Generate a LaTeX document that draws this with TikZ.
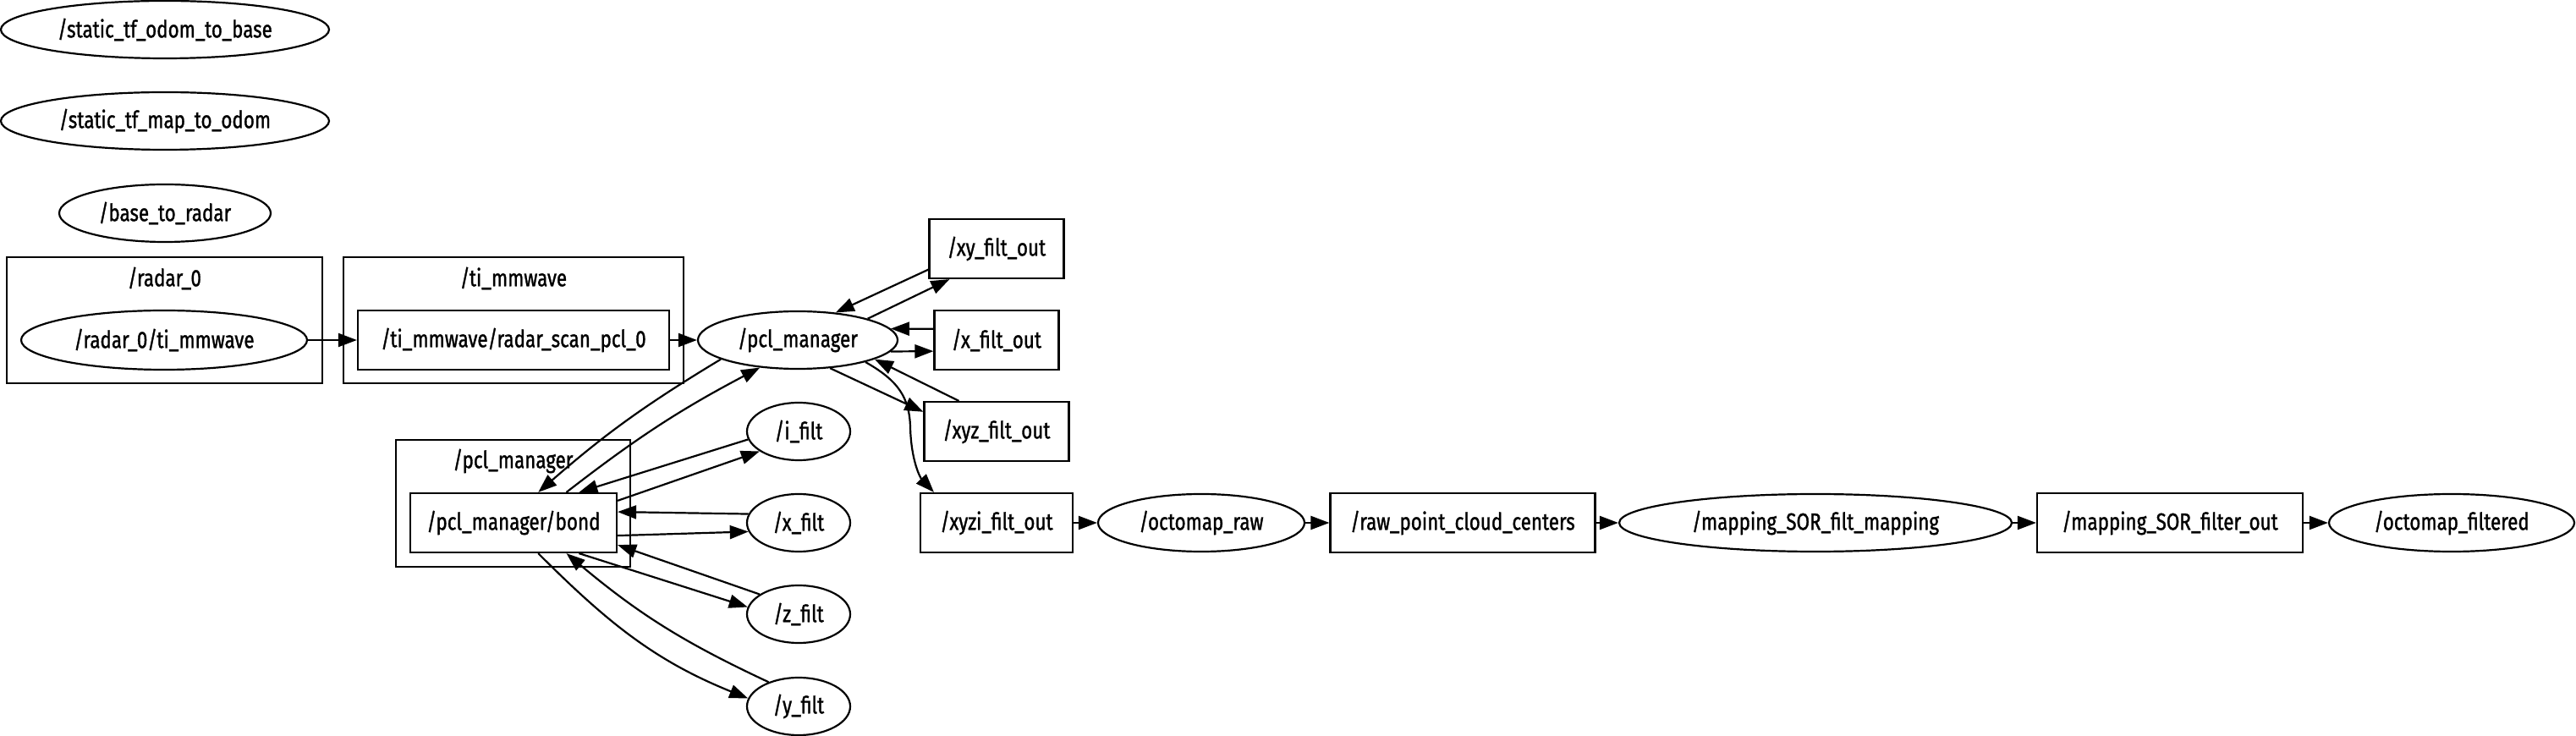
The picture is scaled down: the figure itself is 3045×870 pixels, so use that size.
\documentclass[tikz,border=0pt]{standalone}
\usepackage{fontspec}
\setmainfont{Fira Sans}[FakeStretch=0.8,FakeBold=1.2]
\usetikzlibrary{shapes.geometric,arrows.meta}

\begin{document}
\begin{tikzpicture}[x=0.5pt,y=-0.5pt,line width=1.1pt,
  every node/.style={font=\fontsize{14}{16}\selectfont,inner sep=0pt},
  rosnode/.style={draw,ellipse,minimum height=34pt},
  topic/.style={draw,rectangle,minimum height=35pt},
  grp/.style={draw,rectangle},
  flow/.style={-{Triangle[length=11pt,width=8pt]}}]
  \useasboundingbox (0,0) rectangle (3045,870);
  % groups
  \node[grp,minimum width=186.5pt,minimum height=74.5pt] (radargrp) at (194.5,378.5) {};
  \node (radarlbl) at (194.5,329) {/radar\_0};
  \node[grp,minimum width=201pt,minimum height=74.5pt] (timmgrp) at (607,378.5) {};
  \node (timmlbl) at (607,329) {/ti\_mmwave};
  \node[grp,minimum width=138.5pt,minimum height=75pt] (pclmgrp) at (606.5,595) {};
  \node (pclmlbl) at (606.5,545) {/pcl\_manager};
  % nodes
  \node[rosnode,minimum width=194pt] (sodom) at (195,35) {/static\_tf\_odom\_to\_base};
  \node[rosnode,minimum width=194pt] (smap) at (195,143) {/static\_tf\_map\_to\_odom};
  \node[rosnode,minimum width=125pt] (bradar) at (195,252) {/base\_to\_radar};
  \node[rosnode,minimum width=169pt,minimum height=35pt] (radti) at (194,402) {/radar\_0/ti\_mmwave};
  \node[topic,minimum width=184pt] (scan) at (607,402) {/ti\_mmwave/radar\_scan\_pcl\_0};
  \node[rosnode,minimum width=118pt] (pclm) at (943,402) {/pcl\_manager};
  \node[topic,minimum width=79.5pt] (xyout) at (1178,294) {/xy\_filt\_out};
  \node[topic,minimum width=73.5pt] (xout) at (1178,402) {/x\_filt\_out};
  \node[topic,minimum width=85.5pt] (xyzout) at (1178,510) {/xyz\_filt\_out};
  \node[topic,minimum width=90pt] (xyziout) at (1178,618) {/xyzi\_filt\_out};
  \node[rosnode,minimum width=122pt] (octraw) at (1420,618) {/octomap\_raw};
  \node[topic,minimum width=156.5pt] (rawpc) at (1729,618) {/raw\_point\_cloud\_centers};
  \node[rosnode,minimum width=232pt] (sorfilt) at (2146,618) {/mapping\_SOR\_filt\_mapping};
  \node[topic,minimum width=157pt] (sorout) at (2565,618) {/mapping\_SOR\_filter\_out};
  \node[rosnode,minimum width=145pt] (octfilt) at (2898,618) {/octomap\_filtered};
  \node[topic,minimum width=122pt] (bond) at (607,618) {/pcl\_manager/bond};
  \node[rosnode,minimum width=61pt] (ifilt) at (944,510) {/i\_filt};
  \node[rosnode,minimum width=61pt] (xfilt) at (944,618) {/x\_filt};
  \node[rosnode,minimum width=61pt] (zfilt) at (944,726) {/z\_filt};
  \node[rosnode,minimum width=61pt] (yfilt) at (944,835) {/y\_filt};
  % edges
  \draw[flow] (radti) -- (scan);
  \draw[flow] (scan) -- (pclm);
  \draw[flow] (pclm.17) -- (xyout.213);
  \draw[flow] (xyout.197) -- (pclm.36);
  \draw[flow] (xout.170) -- (pclm.7);
  \draw[flow] (pclm.-7) -- (xout.190);
  \draw[flow] (xyzout.141) -- (pclm.-14);
  \draw[flow] (pclm.-41) -- (xyzout.165);
  \draw[flow] (pclm.-18) .. controls (1062,450) and (1075,470) .. (1076,505) .. controls (1077,545) and (1088,565) .. (xyziout.154);
  \draw[flow] (pclm.194) to[bend right=5] (bond.51);
  \draw[flow] (bond.30) to[bend left=5] (pclm.216);
  \draw[flow] (ifilt.189) -- (bond.25);
  \draw[flow] (bond.12) -- (ifilt.207);
  \draw[flow] (xfilt.170) -- (bond.6);
  \draw[flow] (bond.-7) -- (xfilt.190);
  \draw[flow] (zfilt.153) -- (bond.-12);
  \draw[flow] (bond.-25) -- (zfilt.172);
  \draw[flow] (yfilt.141) to[out=155,in=-40] (bond.-30);
  \draw[flow] (bond.-51) to[out=-45,in=158] (yfilt.171);
  \draw[flow] (xyziout) -- (octraw);
  \draw[flow] (octraw) -- (rawpc);
  \draw[flow] (rawpc) -- (sorfilt);
  \draw[flow] (sorfilt) -- (sorout);
  \draw[flow] (sorout) -- (octfilt);
\end{tikzpicture}
\end{document}
